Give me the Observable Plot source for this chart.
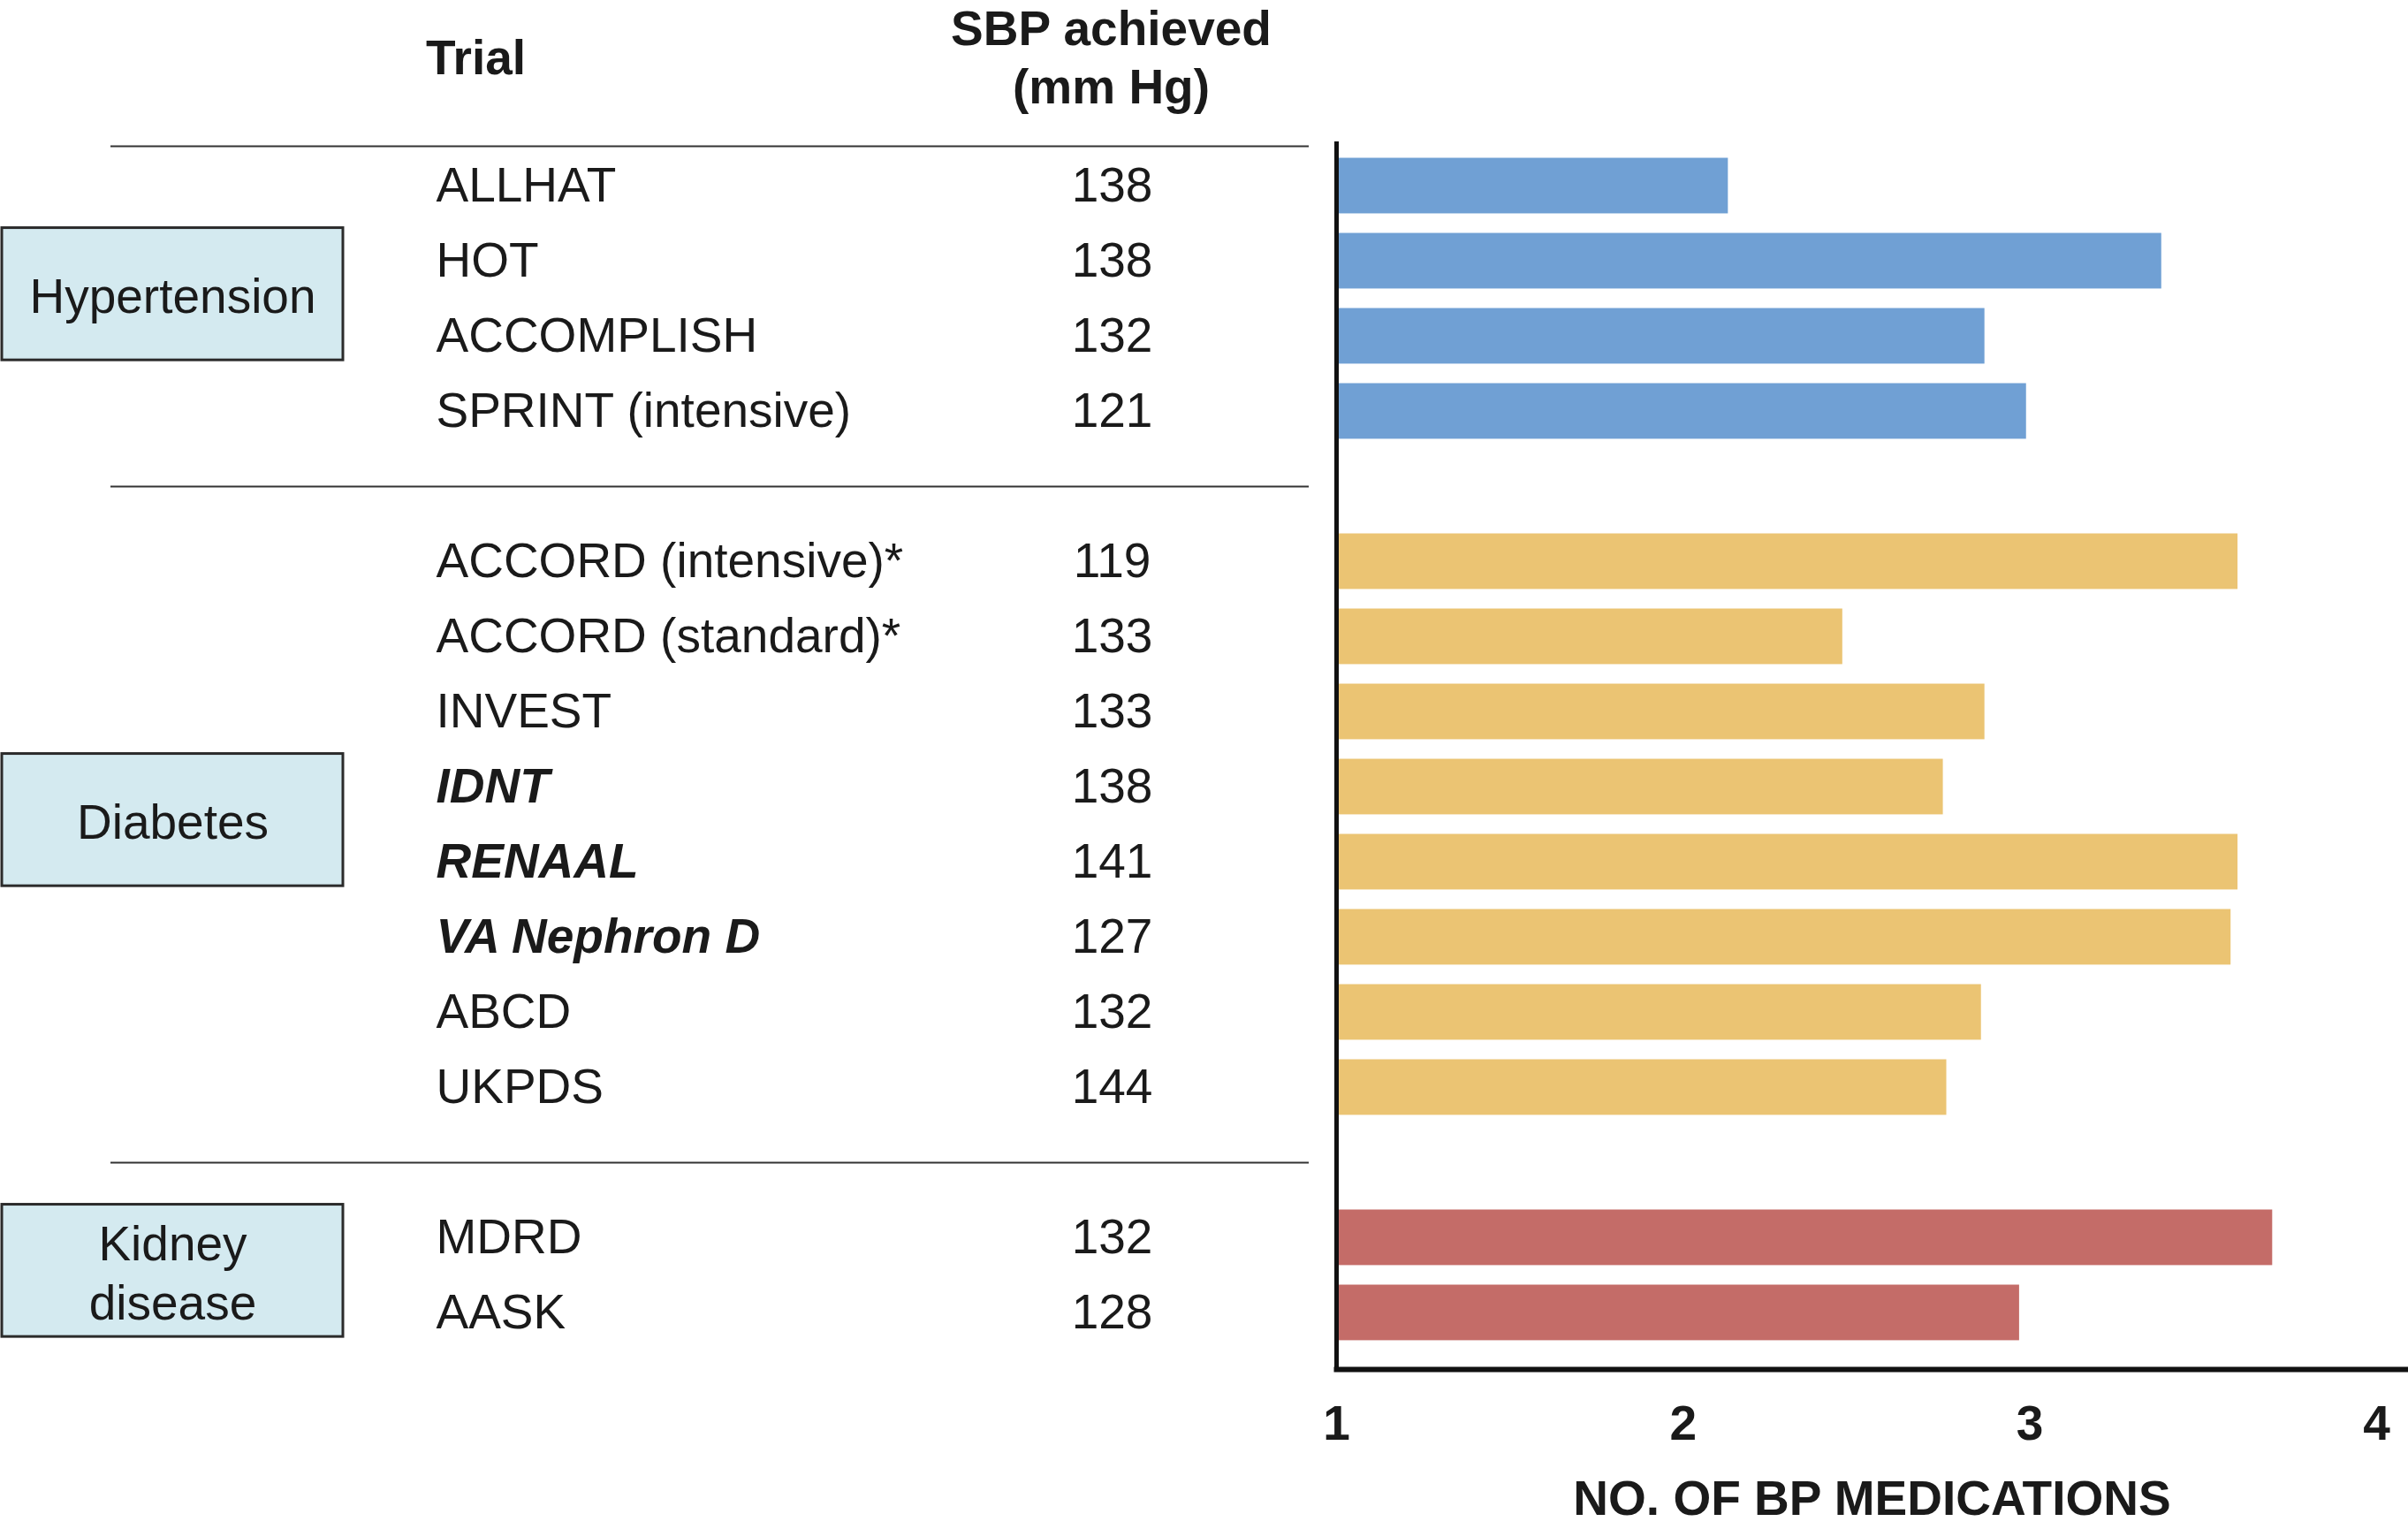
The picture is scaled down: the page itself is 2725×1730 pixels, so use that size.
<!DOCTYPE html>
<html>
<head>
<meta charset="utf-8">
<script src="https://cdn.jsdelivr.net/npm/d3@7"></script>
<script src="https://cdn.jsdelivr.net/npm/@observablehq/plot@0.6"></script>
<style>
  html, body { margin: 0; padding: 0; background: #fff; }
  #chart svg { display: block; }
</style>
</head>
<body>
<div id="chart"></div>
<script>
// ---------------- data ----------------
const trials = [
  "ALLHAT", "HOT", "ACCOMPLISH", "SPRINT (intensive)",
  "ACCORD (intensive)*", "ACCORD (standard)*", "INVEST", "IDNT", "RENAAL", "VA Nephron D", "ABCD", "UKPDS",
  "MDRD", "AASK"
];
const sbpAchieved = [138, 138, 132, 121, 119, 133, 133, 138, 141, 127, 132, 144, 132, 128];
const bpMedications = [2.13, 3.38, 2.87, 2.99, 3.60, 2.46, 2.87, 2.75, 3.60, 3.58, 2.86, 2.76, 3.70, 2.97];
const trialGroup = [
  "Hypertension", "Hypertension", "Hypertension", "Hypertension",
  "Diabetes", "Diabetes", "Diabetes", "Diabetes", "Diabetes", "Diabetes", "Diabetes", "Diabetes",
  "Kidney disease", "Kidney disease"
];
const emphasizedTrials = ["IDNT", "RENAAL", "VA Nephron D"];
const groups = ["Hypertension", "Diabetes", "Kidney disease"];
const groupLabels = ["Hypertension", "Diabetes", "Kidney\ndisease"];
const groupColors = ["#70a0d4", "#ebc473", "#c46c68"];
const xTicks = [1, 2, 3, 4];
const xLabel = "NO. OF BP MEDICATIONS";
const headerTrial = "Trial";
const headerSbp = "SBP achieved\n(mm Hg)";

// ---------------- layout ----------------
const W = 2725, H = 1730;
const ML = 1512, MR = 36, MT = 160, MB = 183;
const FONT = "'Liberation Sans', Arial, Helvetica, sans-serif";
const FS = 55;
const INK = "#1a1a1a";
const BAR_HALF = 0.37;      // half bar thickness, in rows
const BOX_HALF = 0.88;      // half group-box height, in rows
const BOX_NUDGE = -0.06;    // small upward shift of group boxes, in rows
const yDomain = [-0.588, 15.73];

// one blank row between groups
const rows = trials.map((t, i) => ({
  trial: t,
  sbp: sbpAchieved[i],
  meds: bpMedications[i],
  group: trialGroup[i],
  row: i + groups.indexOf(trialGroup[i])
}));
const groupRows = groups.map((g, k) => {
  const r = rows.filter(d => d.group === g).map(d => d.row);
  const first = d3.min(r), last = d3.max(r);
  return {group: g, label: groupLabels[k], first, last, mid: (first + last) / 2 + BOX_NUDGE};
});
const separators = [-0.53, ...groupRows.slice(1).map(g => g.first - 1)];
const isEmph = d => emphasizedTrials.includes(d.trial);

const chart = Plot.plot({
  width: W, height: H,
  marginLeft: ML, marginRight: MR, marginTop: MT, marginBottom: MB,
  style: {fontFamily: FONT, fontSize: FS + "px", background: "#fff", color: INK},
  x: {domain: [1, 4], axis: null},
  y: {domain: yDomain, reverse: true, axis: null},
  color: {domain: groups, range: groupColors},
  marks: [
    // group boxes
    Plot.rect(groupRows, {
      y1: d => d.mid - BOX_HALF, y2: d => d.mid + BOX_HALF,
      fill: "#d4eaf0", stroke: "#2b2b2b", strokeWidth: 3,
      insetLeft: 2 - ML, insetRight: (W - MR) - 388
    }),
    Plot.text(groupRows, {
      y: "mid", text: "label", frameAnchor: "left", dx: 195 - ML,
      textAnchor: "middle", lineAnchor: "middle", lineHeight: 1.22, fontSize: FS, fill: INK
    }),
    // separators
    Plot.ruleY(separators, {
      stroke: "#333", strokeWidth: 2,
      insetLeft: 125 - ML, insetRight: (W - MR) - 1481
    }),
    // bars
    Plot.rectX(rows, {
      x1: 1, x2: "meds",
      y1: d => d.row - BAR_HALF, y2: d => d.row + BAR_HALF,
      fill: "group"
    }),
    // trial names
    Plot.text(rows.filter(d => !isEmph(d)), {
      y: "row", text: "trial", frameAnchor: "left", dx: 493 - ML,
      textAnchor: "start", lineAnchor: "middle", fontSize: FS, fill: INK
    }),
    Plot.text(rows.filter(isEmph), {
      y: "row", text: "trial", frameAnchor: "left", dx: 493 - ML,
      textAnchor: "start", lineAnchor: "middle", fontSize: FS, fill: INK,
      fontWeight: "bold", fontStyle: "italic"
    }),
    // SBP values
    Plot.text(rows, {
      y: "row", text: d => String(d.sbp), frameAnchor: "left", dx: 1258 - ML,
      textAnchor: "middle", lineAnchor: "middle", fontSize: FS, fill: INK
    }),
    // headers
    Plot.text([headerTrial], {
      text: d => d, frameAnchor: "top-left", dx: 538 - ML, dy: 66 - MT,
      textAnchor: "middle", lineAnchor: "middle", fontSize: FS, fontWeight: "bold", fill: INK
    }),
    Plot.text([headerSbp], {
      text: d => d, frameAnchor: "top-left", dx: 1257 - ML, dy: 62.5 - MT,
      textAnchor: "middle", lineAnchor: "middle", lineHeight: 1.2,
      fontSize: FS, fontWeight: "bold", fill: INK
    }),
    // axis lines
    Plot.ruleX([1], {stroke: "#111", strokeWidth: 5}),
    Plot.ruleY([yDomain[1]], {stroke: "#111", strokeWidth: 6, dy: 2, insetLeft: -2.5, insetRight: -MR}),
    Plot.axisX(xTicks, {
      tickSize: 0, tickPadding: 42, tickFormat: d => String(d),
      fontSize: FS, fontWeight: "bold", fill: INK, label: null
    }),
    Plot.text([xLabel], {
      text: d => d, frameAnchor: "bottom",
      dx: 2118 - (ML + W - MR) / 2, dy: 1696 - (H - MB),
      textAnchor: "middle", lineAnchor: "middle", fontSize: FS, fontWeight: "bold", fill: INK
    })
  ]
});
document.getElementById("chart").appendChild(chart);
</script>
</body>
</html>
